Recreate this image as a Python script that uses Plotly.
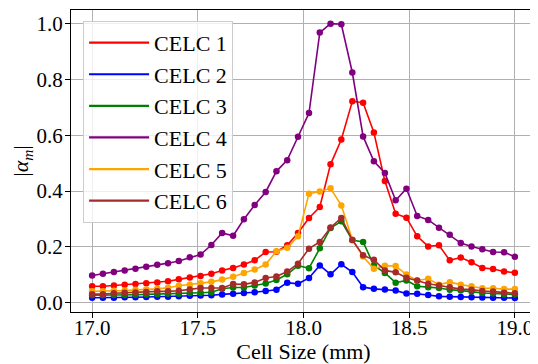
import plotly.graph_objects as go

cell_size = [17.000, 17.051, 17.103, 17.154, 17.205, 17.256, 17.308, 17.359, 17.410, 17.462,
             17.513, 17.564, 17.615, 17.667, 17.718, 17.769, 17.821, 17.872, 17.923, 17.974,
             18.026, 18.077, 18.128, 18.179, 18.231, 18.282, 18.333, 18.385, 18.436, 18.487,
             18.538, 18.590, 18.641, 18.692, 18.744, 18.795, 18.846, 18.897, 18.949, 19.000]

celc1 = [0.059, 0.059, 0.062, 0.065, 0.067, 0.070, 0.073, 0.077, 0.084, 0.091,
         0.096, 0.104, 0.116, 0.125, 0.137, 0.152, 0.182, 0.183, 0.206, 0.250,
         0.304, 0.343, 0.496, 0.585, 0.722, 0.717, 0.610, 0.436, 0.319, 0.305,
         0.238, 0.202, 0.206, 0.152, 0.162, 0.145, 0.125, 0.121, 0.112, 0.108]
celc2 = [0.018, 0.018, 0.018, 0.020, 0.020, 0.021, 0.022, 0.022, 0.023, 0.025,
         0.026, 0.027, 0.030, 0.032, 0.035, 0.038, 0.042, 0.047, 0.072, 0.068,
         0.089, 0.134, 0.102, 0.138, 0.110, 0.056, 0.050, 0.048, 0.044, 0.033,
         0.032, 0.028, 0.023, 0.022, 0.021, 0.020, 0.019, 0.018, 0.018, 0.017]
celc3 = [0.027, 0.027, 0.028, 0.028, 0.029, 0.030, 0.031, 0.032, 0.032, 0.035,
         0.036, 0.038, 0.050, 0.055, 0.055, 0.062, 0.069, 0.082, 0.102, 0.133,
         0.124, 0.195, 0.268, 0.292, 0.225, 0.218, 0.134, 0.107, 0.072, 0.080,
         0.059, 0.056, 0.053, 0.047, 0.044, 0.040, 0.035, 0.033, 0.030, 0.030]
celc4 = [0.098, 0.104, 0.110, 0.116, 0.122, 0.129, 0.136, 0.142, 0.150, 0.163,
         0.173, 0.207, 0.250, 0.240, 0.299, 0.350, 0.397, 0.471, 0.511, 0.595,
         0.680, 0.968, 1.000, 0.998, 0.825, 0.596, 0.507, 0.465, 0.367, 0.409,
         0.311, 0.297, 0.269, 0.244, 0.214, 0.202, 0.192, 0.182, 0.181, 0.165]
celc5 = [0.041, 0.041, 0.043, 0.044, 0.047, 0.048, 0.050, 0.054, 0.061, 0.065,
         0.070, 0.075, 0.083, 0.093, 0.107, 0.119, 0.137, 0.185, 0.197, 0.238,
         0.391, 0.399, 0.410, 0.349, 0.226, 0.166, 0.122, 0.133, 0.132, 0.101,
         0.080, 0.086, 0.065, 0.074, 0.065, 0.059, 0.052, 0.052, 0.049, 0.049]
celc6 = [0.031, 0.031, 0.034, 0.036, 0.037, 0.039, 0.041, 0.041, 0.043, 0.048,
         0.053, 0.053, 0.053, 0.067, 0.066, 0.073, 0.089, 0.094, 0.112, 0.140,
         0.194, 0.218, 0.270, 0.304, 0.225, 0.170, 0.154, 0.116, 0.109, 0.090,
         0.080, 0.068, 0.062, 0.056, 0.049, 0.047, 0.042, 0.040, 0.036, 0.034]

series_names = ["CELC 1", "CELC 2", "CELC 3", "CELC 4", "CELC 5", "CELC 6"]
series_values = [celc1, celc2, celc3, celc4, celc5, celc6]
series_colors = ["#ff0000", "#0000ff", "#008000", "#800080", "#ffa500", "#a52a2a"]

x_ticks = [17.0, 17.5, 18.0, 18.5, 19.0]
x_tick_labels = ["17.0", "17.5", "18.0", "18.5", "19.0"]
y_ticks = [0.0, 0.2, 0.4, 0.6, 0.8, 1.0]
y_tick_labels = ["0.0", "0.2", "0.4", "0.6", "0.8", "1.0"]

FONT = "Liberation Serif"

fig = go.Figure()
for name, vals, col in zip(series_names, series_values, series_colors):
    fig.add_trace(go.Scatter(
        x=cell_size, y=vals, mode="lines+markers", name=name,
        line=dict(color=col, width=1.6),
        marker=dict(color=col, size=6.5),
        showlegend=False,
    ))
for name, col in zip(series_names, series_colors):
    fig.add_trace(go.Scatter(
        x=[None], y=[None], mode="lines", name=name, legendgroup=name,
        line=dict(color=col, width=2.2), showlegend=True,
    ))

axis_common = dict(
    showline=True, linecolor="black", linewidth=1.2, mirror=True,
    showgrid=True, gridcolor="#b0b0b0", gridwidth=1,
    ticks="outside", ticklen=5, tickcolor="black", tickwidth=1,
    tickfont=dict(family=FONT, size=21, color="black"),
    zeroline=False, automargin=False,
)

# the page adds an 8px body margin, so the figure is 8px smaller than the window
fig.update_layout(
    width=530, height=356,
    margin=dict(l=63, r=2, t=2, b=52),
    paper_bgcolor="white", plot_bgcolor="white",
    font=dict(family=FONT, color="black"),
    xaxis=dict(range=[16.9, 19.1], tickvals=x_ticks, ticktext=x_tick_labels,
               ticklabelstandoff=-8,
               title=dict(text="Cell Size (mm)", font=dict(family=FONT, size=22), standoff=2),
               **axis_common),
    yaxis=dict(range=[-0.033, 1.049], tickvals=y_ticks, ticktext=y_tick_labels,
               ticklabelstandoff=-2,
               title=dict(text="|<i>α</i><sub><i>m</i></sub>|", font=dict(family=FONT, size=22), standoff=9),
               **axis_common),
    legend=dict(
        x=0.026, y=0.964, xanchor="left", yanchor="top",
        bgcolor="rgba(255,255,255,0.8)", bordercolor="#cccccc", borderwidth=1,
        font=dict(family=FONT, size=22, color="black"),
        itemwidth=60, tracegroupgap=0,
    ),
)

fig.write_html("out.html")
